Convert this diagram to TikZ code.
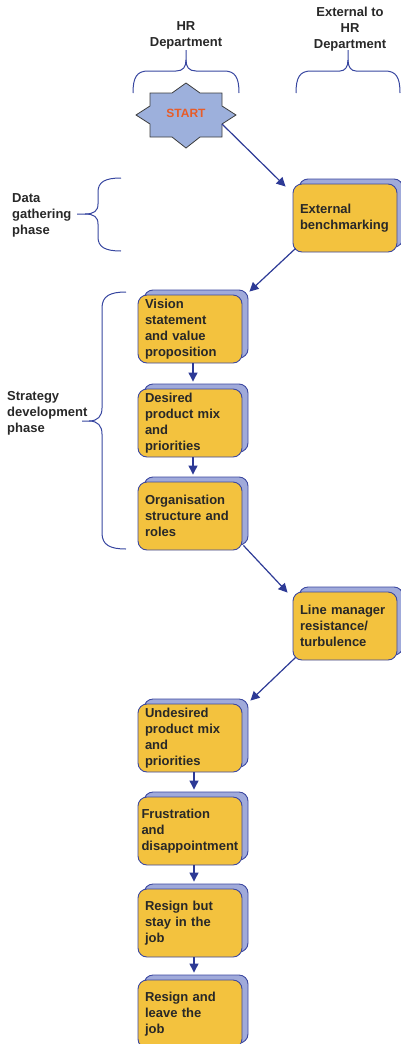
\documentclass[tikz,border=0pt]{standalone}
\usepackage{fontspec}
\setmainfont{Liberation Sans}
\usetikzlibrary{arrows.meta,shadows}
\definecolor{boxfill}{RGB}{243,194,62}
\definecolor{boxline}{RGB}{60,72,160}
\definecolor{shadefill}{RGB}{160,170,218}
\definecolor{arrowblue}{RGB}{45,58,150}
\definecolor{bracecol}{RGB}{55,70,160}
\definecolor{txt}{RGB}{40,40,40}
\definecolor{starfill}{RGB}{157,176,220}
\definecolor{starline}{RGB}{60,60,60}
\definecolor{startred}{RGB}{232,92,40}
\begin{document}
\begin{tikzpicture}[x=1pt,y=-1pt,
  stepbox/.style={draw=boxline, line width=0.9pt, fill=boxfill, rounded corners=9pt,
    minimum width=104pt, minimum height=68pt, text width=90pt, inner xsep=7pt, inner ysep=1pt,
    align=left, font=\bfseries\fontsize{13}{16}\selectfont, text=txt,
    copy shadow={shadow xshift=6pt, shadow yshift=5pt, fill=shadefill, draw=boxline, line width=0.9pt}},
  arr/.style={draw=arrowblue, line width=1.2pt, -{Triangle[length=9pt,width=9pt]}},
  brace/.style={draw=bracecol, line width=1pt},
  lbl/.style={font=\bfseries\fontsize{13}{16}\selectfont, text=txt, align=left, inner sep=0pt},
  hdr/.style={font=\bfseries\fontsize{13}{16}\selectfont, text=txt, align=center, inner sep=0pt},
  starshape/.style={draw=starline, line width=0.8pt, fill=starfill},
]
\useasboundingbox (0,0) rectangle (401,1044);
\clip (0,0) rectangle (401,1044);

% headers
\node[hdr, anchor=north] (hrhead) at (186,21) {HR\\Department};
\node[hdr, anchor=north] (exthead) at (350,7) {External to\\HR\\Department};

% top braces
\draw[brace] (133,93) .. controls (133,77) and (137,71) .. (148,71) -- (176,71) .. controls (183,71) and (186,67) .. (186,60) -- (186,50);
\draw[brace] (239,93) .. controls (239,77) and (235,71) .. (224,71) -- (196,71) .. controls (189,71) and (186,67) .. (186,60);
\begin{scope}[shift={(162,0)}]
\draw[brace] (134,93) .. controls (134,77) and (138,71) .. (149,71) -- (178,71) .. controls (183,71) and (186,67) .. (186,60) -- (186,50);
\draw[brace] (238,93) .. controls (238,77) and (234,71) .. (223,71) -- (194,71) .. controls (189,71) and (186,67) .. (186,60);
\end{scope}

% left braces
\draw[brace] (121,178) .. controls (105,178) and (98,182) .. (98,192) -- (98,204) .. controls (98,211) and (94,214) .. (85,214) -- (77,214);
\draw[brace] (121,251) .. controls (105,251) and (98,247) .. (98,237) -- (98,224) .. controls (98,217) and (94,214) .. (85,214);
\draw[brace] (126,292) .. controls (110,292) and (102,296) .. (102,308) -- (102,408) .. controls (102,416) and (98,421) .. (89,421) -- (82,421);
\draw[brace] (126,549) .. controls (110,549) and (102,545) .. (102,533) -- (102,434) .. controls (102,426) and (98,421) .. (89,421);

\node[lbl, anchor=north west] (datalbl) at (12,193) {Data\\gathering\\phase};
\node[lbl, anchor=north west] (stratlbl) at (7,391) {Strategy\\development\\phase};

% start star
\draw[starshape] (136,115) -- (150,106) -- (150,93) -- (172,93) -- (186,83) -- (200,93) -- (222,93) -- (222,106) -- (236,115) -- (222,124) -- (222,137) -- (200,137) -- (186,148) -- (172,137) -- (150,137) -- (150,124) -- cycle;
\coordinate (startout) at (222,124);
\node[font=\bfseries\fontsize{12}{14}\selectfont, text=startred, inner sep=0pt] (start) at (186,113) {START};

% boxes
\node[stepbox] (ext) at (345,218) {External\\benchmarking};
\node[stepbox] (vision) at (190,329) {Vision\\statement\\and value\\proposition};
\node[stepbox] (desired) at (190,423) {Desired\\product mix\\and\\priorities};
\node[stepbox] (org) at (190,516) {Organisation\\structure and\\roles};
\node[stepbox] (line) at (345,626) {Line manager\\resistance/\\turbulence};
\node[stepbox] (undesired) at (190,738) {Undesired\\product mix\\and\\priorities};
\node[stepbox, text width=97pt, inner xsep=3.5pt] (frus) at (190,831) {Frustration\\and\\disappointment};
\node[stepbox] (resign) at (190,923) {Resign but\\stay in the\\job};
\node[stepbox] (leave) at (190,1014) {Resign and\\leave the\\job};

% connectors
\draw[arr] (startout) -- ([shift={(-7,3)}]ext.north west);
\draw[arr] ([shift={(3,-4)}]ext.south west) -- ([shift={(7,-3)}]vision.north east);
\draw[arr] ([xshift=3pt]vision.south) -- ([xshift=3pt,yshift=7pt]desired.north);
\draw[arr] ([xshift=3pt]desired.south) -- ([xshift=3pt,yshift=7pt]org.north);
\draw[arr] ([shift={(1,-5)}]org.south east) -- ([shift={(-5,1)}]line.north west);
\draw[arr] ([shift={(3,-3)}]line.south west) -- ([shift={(8,-3)}]undesired.north east);
\draw[arr] ([xshift=4pt]undesired.south) -- ([xshift=4pt,yshift=7pt]frus.north);
\draw[arr] ([xshift=4pt]frus.south) -- ([xshift=4pt,yshift=7pt]resign.north);
\draw[arr] ([xshift=4pt]resign.south) -- ([xshift=4pt,yshift=7pt]leave.north);
\end{tikzpicture}
\end{document}
